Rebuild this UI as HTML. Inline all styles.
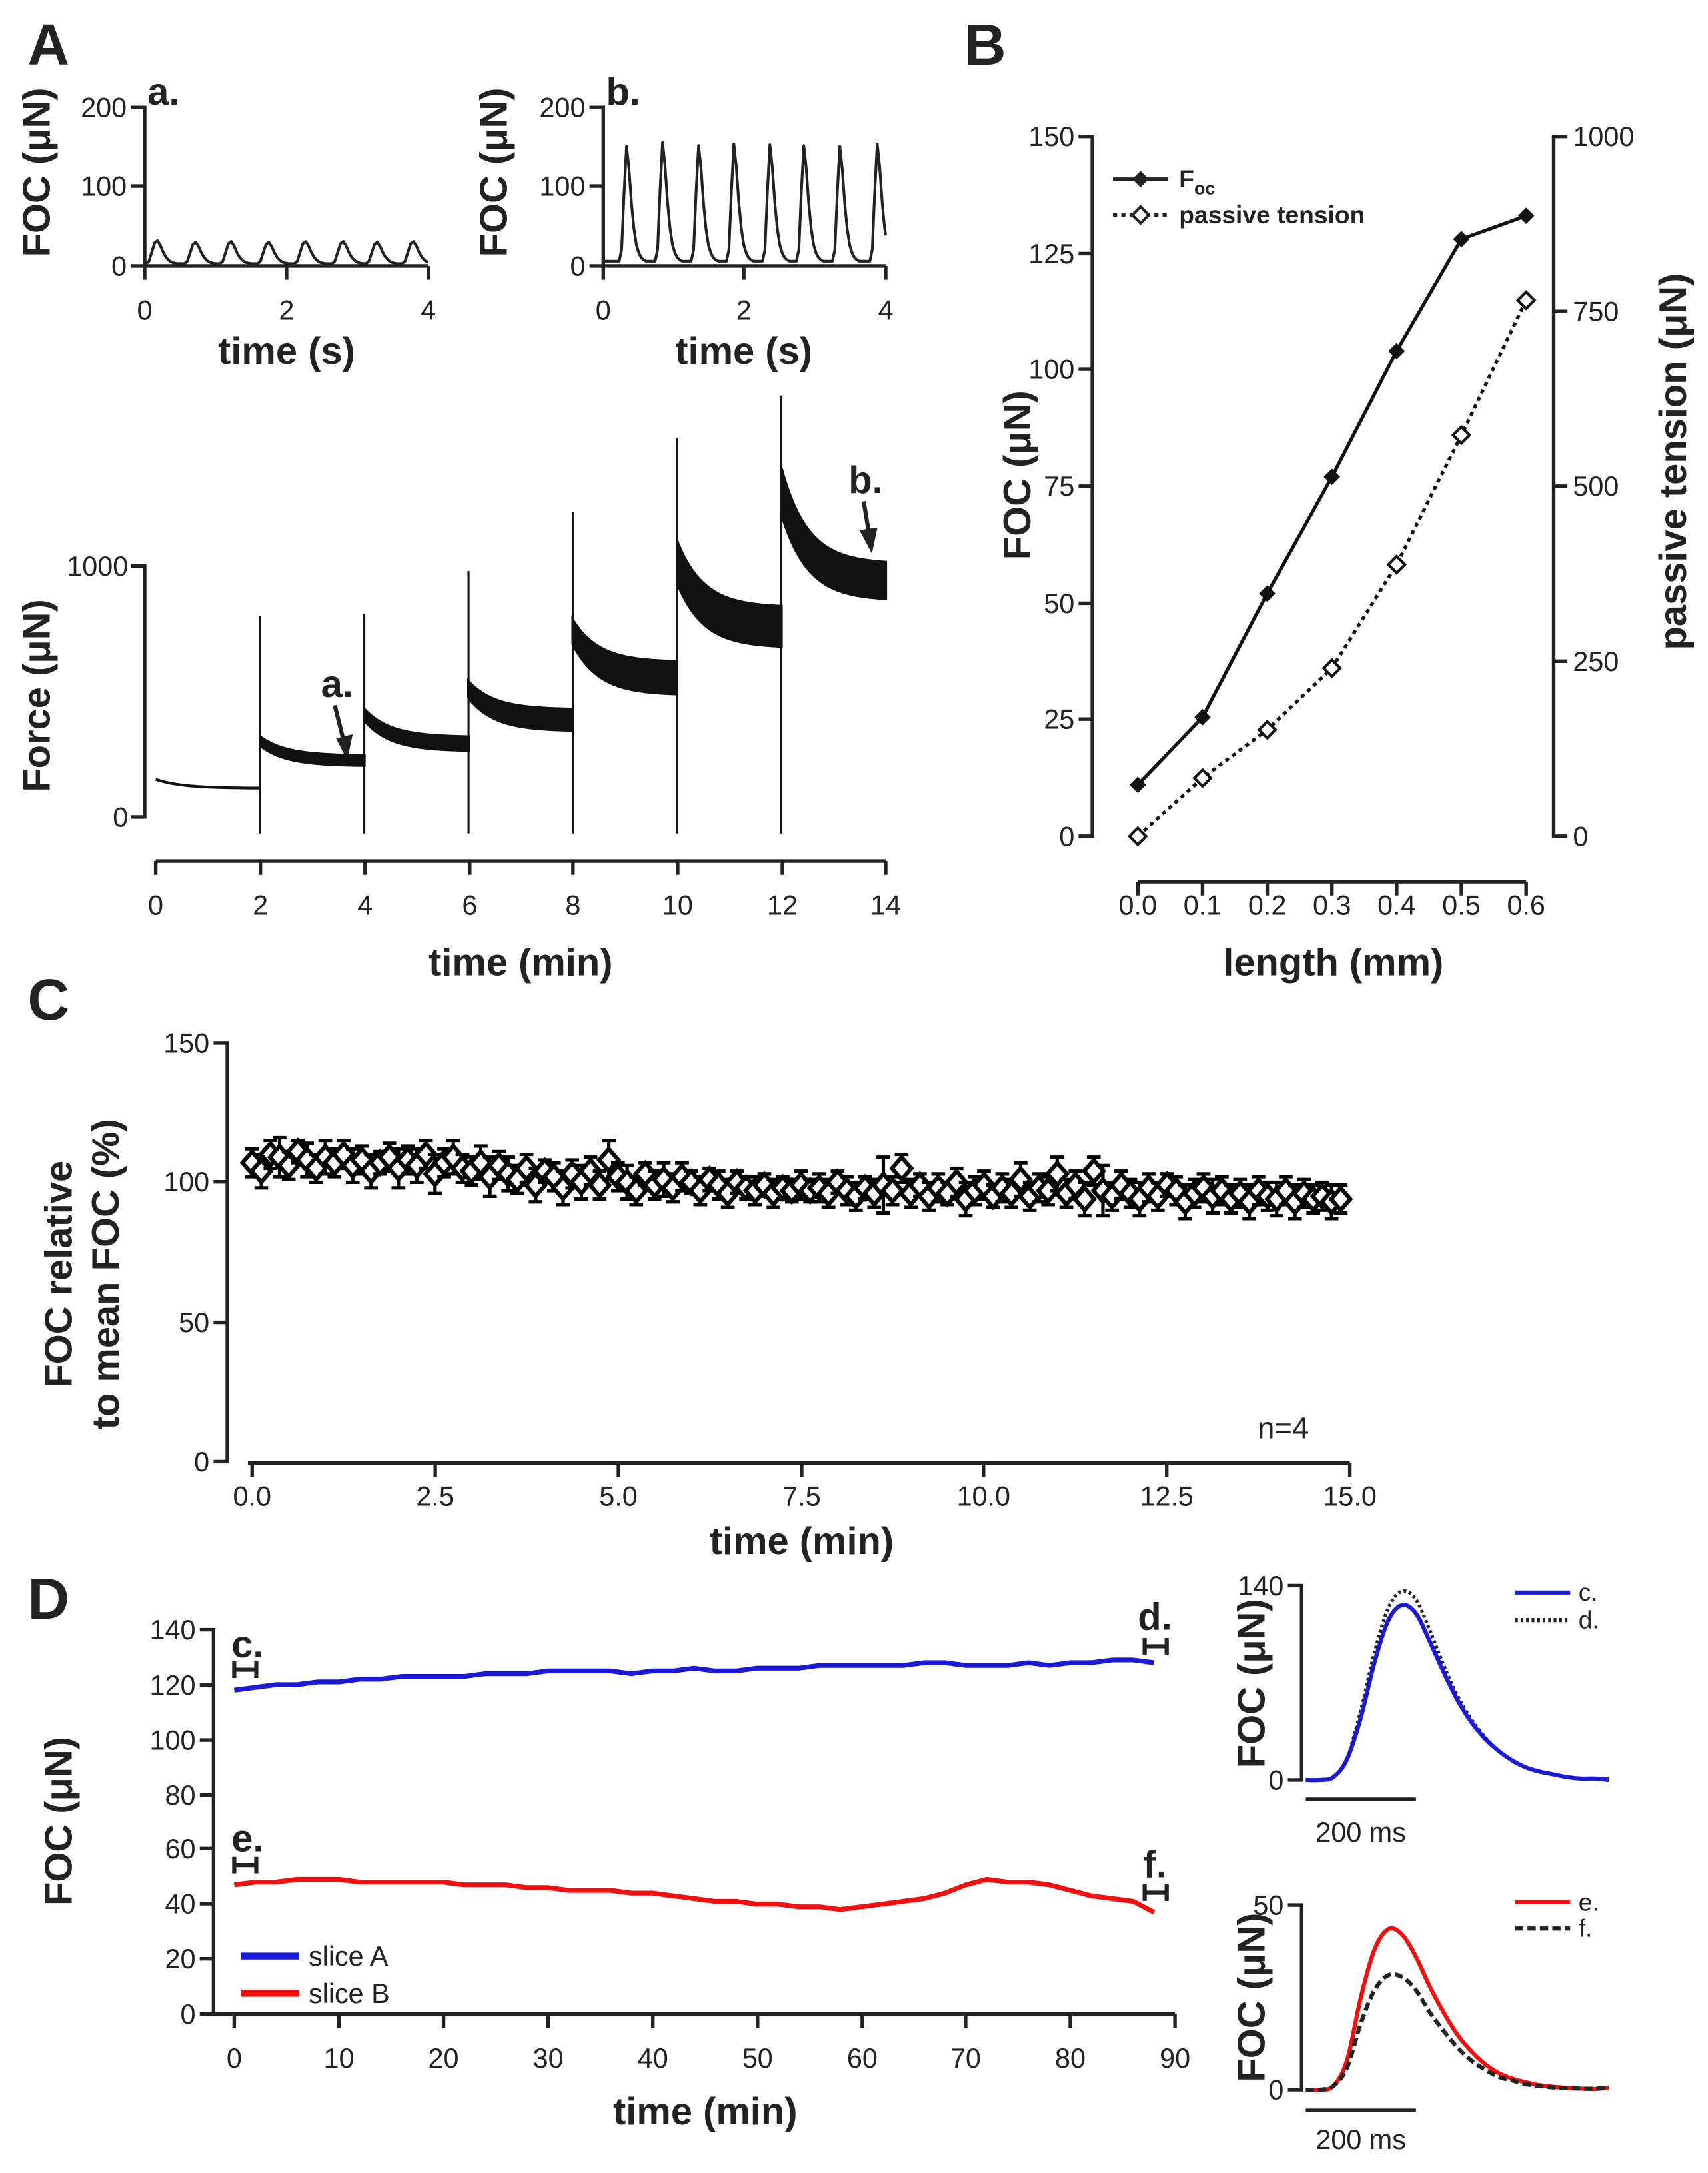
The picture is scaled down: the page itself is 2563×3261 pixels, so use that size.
<!DOCTYPE html>
<html><head><meta charset="utf-8"><style>
html,body{margin:0;padding:0;background:#fff}
#root{width:2563px;height:3256px}
svg text{font-family:"Liberation Sans",Arial,sans-serif;fill:#222}
.tk{font-size:20px}
.tt{font-size:28px;font-weight:bold}
.pl{font-size:42px;font-weight:bold}
.ax{stroke:#222;stroke-width:2.6;fill:none}
</style></head><body>
<div id="root">
<svg id="s" width="2563" height="3256" viewBox="0 0 1240 1575" preserveAspectRatio="none">
<text class="pl" x="20" y="47">A</text>
<text class="pl" x="700" y="47">B</text>
<text class="pl" x="20" y="740">C</text>
<text class="pl" x="20" y="1175">D</text>

<g>
<path class="ax" d="M95,78H105V193H95M95,135H105M105,193H311M105,193V203M208,193V203M311,193V203"/>
<text class="tk" x="92" y="85" text-anchor="end">200</text>
<text class="tk" x="92" y="142" text-anchor="end">100</text>
<text class="tk" x="92" y="200" text-anchor="end">0</text>
<text class="tk" x="105" y="232" text-anchor="middle">0</text>
<text class="tk" x="208" y="232" text-anchor="middle">2</text>
<text class="tk" x="311" y="232" text-anchor="middle">4</text>
<text class="tt" x="208" y="264" text-anchor="middle">time (s)</text>
<text class="tt" transform="translate(36,125) rotate(-90)" text-anchor="middle">FOC (μN)</text>
<text class="tt" x="107" y="76" font-size="24">a.</text>
</g>
<g>
<path class="ax" d="M428,78H438V193H428M428,135H438M438,193H643M438,193V203M540,193V203M643,193V203"/>
<text class="tk" x="425" y="85" text-anchor="end">200</text>
<text class="tk" x="425" y="142" text-anchor="end">100</text>
<text class="tk" x="425" y="200" text-anchor="end">0</text>
<text class="tk" x="438" y="232" text-anchor="middle">0</text>
<text class="tk" x="540" y="232" text-anchor="middle">2</text>
<text class="tk" x="643" y="232" text-anchor="middle">4</text>
<text class="tt" x="540" y="264" text-anchor="middle">time (s)</text>
<text class="tt" transform="translate(368,125) rotate(-90)" text-anchor="middle">FOC (μN)</text>
<text class="tt" x="440" y="76" font-size="24">b.</text>
</g>
<g>
<path class="ax" d="M95,411H105V593H95"/>
<path class="ax" d="M113,625H643M113,625V635M189,625V635M265,625V635M341,625V635M416,625V635M492,625V635M568,625V635M643,625V635"/>
<text class="tk" x="93" y="418" text-anchor="end">1000</text>
<text class="tk" x="93" y="600" text-anchor="end">0</text>
<text class="tk" x="113" y="664" text-anchor="middle">0</text>
<text class="tk" x="189" y="664" text-anchor="middle">2</text>
<text class="tk" x="265" y="664" text-anchor="middle">4</text>
<text class="tk" x="341" y="664" text-anchor="middle">6</text>
<text class="tk" x="416" y="664" text-anchor="middle">8</text>
<text class="tk" x="492" y="664" text-anchor="middle">10</text>
<text class="tk" x="568" y="664" text-anchor="middle">12</text>
<text class="tk" x="643" y="664" text-anchor="middle">14</text>
<text class="tt" x="378" y="708" text-anchor="middle">time (min)</text>
<text class="tt" transform="translate(36,505) rotate(-90)" text-anchor="middle">Force (μN)</text>
</g>
<g><text class="tt" x="233" y="506" font-size="24">a.</text>
<path d="M243,512L250,540" stroke="#222" stroke-width="3"/><path d="M244,536L252,552L256,533Z" fill="#222"/></g>
<g><text class="tt" x="616" y="358" font-size="24">b.</text>
<path d="M627,364L631,388" stroke="#222" stroke-width="3"/><path d="M624,385L633,402L637,383Z" fill="#222"/></g>

<g>
<path class="ax" d="M783,99H793V607H783M783,184H793M783,268H793M783,353H793M783,438H793M783,522H793"/>
<path class="ax" d="M1138,99H1128V607H1138M1138,226H1128M1138,353H1128M1138,480H1128"/>
<path class="ax" d="M826,640H1108M826,640V650M873,640V650M920,640V650M967,640V650M1014,640V650M1061,640V650M1108,640V650"/>
<text class="tk" x="780" y="106" text-anchor="end">150</text>
<text class="tk" x="780" y="191" text-anchor="end">125</text>
<text class="tk" x="780" y="275" text-anchor="end">100</text>
<text class="tk" x="780" y="360" text-anchor="end">75</text>
<text class="tk" x="780" y="445" text-anchor="end">50</text>
<text class="tk" x="780" y="529" text-anchor="end">25</text>
<text class="tk" x="780" y="614" text-anchor="end">0</text>
<text class="tk" x="1142" y="106">1000</text>
<text class="tk" x="1142" y="233">750</text>
<text class="tk" x="1142" y="360">500</text>
<text class="tk" x="1142" y="487">250</text>
<text class="tk" x="1142" y="614">0</text>
<text class="tk" x="826" y="664" text-anchor="middle">0.0</text>
<text class="tk" x="873" y="664" text-anchor="middle">0.1</text>
<text class="tk" x="920" y="664" text-anchor="middle">0.2</text>
<text class="tk" x="967" y="664" text-anchor="middle">0.3</text>
<text class="tk" x="1014" y="664" text-anchor="middle">0.4</text>
<text class="tk" x="1061" y="664" text-anchor="middle">0.5</text>
<text class="tk" x="1108" y="664" text-anchor="middle">0.6</text>
<text class="tt" x="968" y="708" text-anchor="middle">length (mm)</text>
<text class="tt" transform="translate(748,345) rotate(-90)" text-anchor="middle">FOC (μN)</text>
<text class="tt" transform="translate(1224,335) rotate(-90)" text-anchor="middle">passive tension (μN)</text>
</g>
<g>
<path d="M808,130H848" stroke="#222" stroke-width="2.5"/><path d="M828,124L834,130L828,136L822,130Z" fill="#222"/>
<text x="856" y="136" font-size="18" font-weight="bold">F<tspan font-size="13" dy="5">oc</tspan></text>
<path d="M808,156H848" stroke="#222" stroke-width="2.5" stroke-dasharray="3,3"/><path d="M828,150L834,156L828,162L822,156Z" fill="#fff" stroke="#222" stroke-width="2"/>
<text x="856" y="162" font-size="18" font-weight="bold">passive tension</text>
</g>

<g>
<path class="ax" d="M155,757H165V1061H155M155,858H165M155,960H165"/>
<path class="ax" d="M180,1062H980M183,1062V1072M316,1062V1072M449,1062V1072M582,1062V1072M714,1062V1072M847,1062V1072M980,1062V1072"/>
<text class="tk" x="152" y="764" text-anchor="end">150</text>
<text class="tk" x="152" y="865" text-anchor="end">100</text>
<text class="tk" x="152" y="967" text-anchor="end">50</text>
<text class="tk" x="152" y="1068" text-anchor="end">0</text>
<text class="tk" x="183" y="1093" text-anchor="middle">0.0</text>
<text class="tk" x="316" y="1093" text-anchor="middle">2.5</text>
<text class="tk" x="449" y="1093" text-anchor="middle">5.0</text>
<text class="tk" x="582" y="1093" text-anchor="middle">7.5</text>
<text class="tk" x="714" y="1093" text-anchor="middle">10.0</text>
<text class="tk" x="847" y="1093" text-anchor="middle">12.5</text>
<text class="tk" x="980" y="1093" text-anchor="middle">15.0</text>
<text class="tt" x="582" y="1128" text-anchor="middle">time (min)</text>
<text class="tt" transform="translate(52,925) rotate(-90)" text-anchor="middle">FOC relative</text>
<text class="tt" transform="translate(86,925) rotate(-90)" text-anchor="middle">to mean FOC (%)</text>
<text x="913" y="1044" font-size="22">n=4</text>
</g>

<g>
<path class="ax" d="M145,1183H155V1462H145M145,1223H155M145,1263H155M145,1303H155M145,1342H155M145,1382H155M145,1422H155"/>
<path class="ax" d="M155,1462H853M170,1462V1472M246,1462V1472M322,1462V1472M398,1462V1472M474,1462V1472M550,1462V1472M626,1462V1472M701,1462V1472M777,1462V1472M853,1462V1472"/>
<text class="tk" x="142" y="1190" text-anchor="end">140</text>
<text class="tk" x="142" y="1230" text-anchor="end">120</text>
<text class="tk" x="142" y="1270" text-anchor="end">100</text>
<text class="tk" x="142" y="1310" text-anchor="end">80</text>
<text class="tk" x="142" y="1349" text-anchor="end">60</text>
<text class="tk" x="142" y="1389" text-anchor="end">40</text>
<text class="tk" x="142" y="1429" text-anchor="end">20</text>
<text class="tk" x="142" y="1469" text-anchor="end">0</text>
<text class="tk" x="170" y="1501" text-anchor="middle">0</text>
<text class="tk" x="246" y="1501" text-anchor="middle">10</text>
<text class="tk" x="322" y="1501" text-anchor="middle">20</text>
<text class="tk" x="398" y="1501" text-anchor="middle">30</text>
<text class="tk" x="474" y="1501" text-anchor="middle">40</text>
<text class="tk" x="550" y="1501" text-anchor="middle">50</text>
<text class="tk" x="626" y="1501" text-anchor="middle">60</text>
<text class="tk" x="701" y="1501" text-anchor="middle">70</text>
<text class="tk" x="777" y="1501" text-anchor="middle">80</text>
<text class="tk" x="853" y="1501" text-anchor="middle">90</text>
<text class="tt" x="512" y="1542" text-anchor="middle">time (min)</text>
<text class="tt" transform="translate(52,1322) rotate(-90)" text-anchor="middle">FOC (μN)</text>
<text class="tt" x="168" y="1203" font-size="22">c.</text><path d="M170,1212H186M170,1206V1218M186,1206V1218" stroke="#222" stroke-width="3"/>
<text class="tt" x="826" y="1183" font-size="22">d.</text><path d="M831,1195H847M831,1189V1201M847,1189V1201" stroke="#222" stroke-width="3"/>
<text class="tt" x="168" y="1344" font-size="22">e.</text><path d="M170,1354H186M170,1348V1360M186,1348V1360" stroke="#222" stroke-width="3"/>
<text class="tt" x="830" y="1363" font-size="22">f.</text><path d="M831,1374H847M831,1368V1380M847,1368V1380" stroke="#222" stroke-width="3"/>
</g>
<g>
<path d="M175,1420H217" stroke="#1a1ad6" stroke-width="5"/><text x="224" y="1427" font-size="20">slice A</text>
<path d="M175,1447H217" stroke="#f01010" stroke-width="5"/><text x="224" y="1454" font-size="20">slice B</text>
</g>
<g>
<path class="ax" d="M935,1151H945V1292H935"/><path class="ax" d="M948,1306H1028"/>
<text class="tk" x="932" y="1158" text-anchor="end">140</text>
<text class="tk" x="932" y="1299" text-anchor="end">0</text>
<text x="988" y="1337" font-size="20" text-anchor="middle">200 ms</text>
<text class="tt" font-size="20" transform="translate(918,1222) rotate(-90)" text-anchor="middle">FOC (μN)</text>
<path d="M1100,1156H1140" stroke="#1a1ad6" stroke-width="3"/><text x="1146" y="1162" font-size="18">c.</text>
<path d="M1100,1176H1140" stroke="#222" stroke-width="3" stroke-dasharray="2,2"/><text x="1146" y="1182" font-size="18">d.</text>
</g>
<g>
<path class="ax" d="M935,1383H945V1517H935"/><path class="ax" d="M948,1532H1028"/>
<text class="tk" x="932" y="1390" text-anchor="end">50</text>
<text class="tk" x="932" y="1524" text-anchor="end">0</text>
<text x="988" y="1560" font-size="20" text-anchor="middle">200 ms</text>
<text class="tt" font-size="20" transform="translate(918,1450) rotate(-90)" text-anchor="middle">FOC (μN)</text>
<path d="M1100,1381H1140" stroke="#f01010" stroke-width="3"/><text x="1146" y="1387" font-size="18">e.</text>
<path d="M1100,1400H1140" stroke="#222" stroke-width="3" stroke-dasharray="6,3"/><text x="1146" y="1406" font-size="18">f.</text>
</g>
<g id="marks"></g>
</svg>
</div>
<script>
// ---- data ----
const insetAPeaks=[0.14,0.68,1.18,1.71,2.23,2.76,3.24,3.75];
const insetAAmp=[29,27,28,27,28,28,27,28];
const insetBPeaks=[0.33,0.84,1.35,1.85,2.36,2.84,3.35,3.88];
const insetBAmp=[145,150,146,148,147,146,145,148];
const pulseShapeA=[0,0.1,0.5,0.9,1,0.8,0.5,0.28,0.14,0.06,0.02,0];
const pulseShapeB=[0,0.1,0.6,1,0.8,0.5,0.28,0.14,0.07,0.03,0.01,0];
const segTopStart=[150,320,430,540,785,1100,1390];
const segTopEnd=[115,245,320,430,620,840,1016];
const segBotStart=[150,285,385,475,690,935,1210];
const segBotEnd=[115,205,265,345,490,680,870];
const spikeMax=[0,800,810,980,1215,1510,1680];
const lengths=[0,0.1,0.2,0.3,0.4,0.5,0.6];
const focVals=[11,25.5,52,77,104,128,133];
const passiveVals=[0,83,152,240,388,573,766];
const relFoc=[107,104,110,109,106,111,108,105,109,107,110,106,
108,104,107,109,105,108,106,110,103,107,109,105,
104,107,102,106,103,101,105,99,104,102,98,103,
100,104,99,108,102,100,97,103,99,101,98,102,
100,97,101,99,96,100,98,97,99,96,98,97,
99,97,98,96,100,97,95,98,96,99,97,105,
96,99,95,98,96,100,94,97,99,95,98,96,
101,95,98,97,103,96,99,94,104,97,95,99,
96,94,98,95,99,97,93,96,98,95,97,94,
96,93,97,95,94,97,93,96,94,95,93,94];
const relErr=[5,6,5,7,5,4,6,5,6,5,5,6,5,6,4,5,7,5,6,5,7,5,6,5,5,6,7,5,6,5,5,6,4,5,6,5,6,5,5,7,5,6,5,4,5,6,5,5,
4,5,4,5,5,4,4,5,4,5,4,4,5,4,5,5,4,5,5,4,5,10,5,5,5,4,5,5,4,5,6,5,5,4,5,5,6,5,5,5,6,5,5,6,5,9,5,5,
5,6,5,5,4,5,6,5,5,6,5,5,5,6,5,5,6,5,6,5,5,5,6,5];
const dTimes=[0,2,4,6,8,10,12,14,16,18,20,22,24,26,28,30,32,34,36,38,40,42,44,46,48,50,52,54,56,58,60,62,64,66,68,70,72,74,76,78,80,82,84,86,88];
const sliceA=[118,119,120,120,121,121,122,122,123,123,123,123,124,124,124,125,125,125,125,124,125,125,126,125,125,126,126,126,127,127,127,127,127,128,128,127,127,127,128,127,128,128,129,129,128];
const sliceB=[47,48,48,49,49,49,48,48,48,48,48,47,47,47,46,46,45,45,45,44,44,43,42,41,41,40,40,39,39,38,39,40,41,42,44,47,49,48,48,47,45,43,42,41,37];
const trT=[0,25,50,75,100,125,150,175,200,225,250,275,300,325,350,375,400,425,450,475,500,525,550];
const trC=[0,0,2,15,45,85,115,126,120,100,78,58,42,30,21,14,9,6,4,2,1,1,0];
const trD=[0,0,2,16,50,92,124,136,130,108,83,61,44,31,21,14,9,6,4,2,1,1,1];
const trE=[0,0,1,8,25,38,43.5,42,36,28,21,15,10.5,7,4.5,3,2,1.2,0.8,0.5,0.3,0.2,0.5];
const trF=[0,0,1,6,18,27,31,30.5,27,21,16,11.5,8,5.5,3.5,2.5,1.5,1,0.6,0.4,0.3,0.3,0.6];

const NS='http://www.w3.org/2000/svg';
const G=document.getElementById('marks');
function mk(tag,attrs,name){
  const el=document.createElementNS(NS,tag);
  for(const k in attrs) el.setAttribute(k,attrs[k]);
  
  
  G.appendChild(el);return el;
}
const pts=a=>a.map(p=>p[0].toFixed(2)+','+p[1].toFixed(2)).join(' ');
function smooth(p){ // catmull-rom path through points
  let d='M'+p[0][0]+','+p[0][1];
  for(let i=0;i<p.length-1;i++){
    const p0=p[Math.max(0,i-1)],p1=p[i],p2=p[i+1],p3=p[Math.min(p.length-1,i+2)];
    const c1=[p1[0]+(p2[0]-p0[0])/6,p1[1]+(p2[1]-p0[1])/6];
    const c2=[p2[0]-(p3[0]-p1[0])/6,p2[1]-(p3[1]-p1[1])/6];
    d+=`C${c1[0].toFixed(2)},${c1[1].toFixed(2)} ${c2[0].toFixed(2)},${c2[1].toFixed(2)} ${p2[0].toFixed(2)},${p2[1].toFixed(2)}`;
  }
  return d;
}

function inset(peaks,amps,shape,step,base,x0,xs,y0,ys,name){
  const p=[];
  for(let t=0;t<=4.0001;t+=0.005){
    let v=base;
    peaks.forEach((pk,i)=>{const k=(t-pk)/step+3;if(k>=0&&k<shape.length-1){const i0=Math.floor(k),f=k-i0;v+=amps[i]*(shape[i0]*(1-f)+shape[i0+1]*f);}});
    p.push([x0+t*xs,y0-v*ys]);
  }
  mk('polyline',{points:pts(p),fill:'none',stroke:'#222','stroke-width':2,'stroke-linejoin':'round'},name);
}
inset(insetAPeaks,insetAAmp,pulseShapeA,0.04,3,105,51.5,193,0.575,'inset-a-trace');
inset(insetBPeaks,insetBAmp,pulseShapeB,0.035,6,438,51.25,193,0.575,'inset-b-trace');

const fx=t=>113+t*(530/14), fy=v=>593-v*0.182;
const decay=u=>(Math.exp(-4*u)-Math.exp(-4))/(1-Math.exp(-4));
segTopStart.forEach((s,i)=>{
  const top=[],bot=[];
  for(let u=0;u<=1.0001;u+=0.02){
    const t=i*2+u*2;
    top.push([fx(t),fy(segTopEnd[i]+(s-segTopEnd[i])*decay(u))]);
    bot.push([fx(t),fy(segBotEnd[i]+(segBotStart[i]-segBotEnd[i])*decay(u))]);
  }
  mk('polygon',{points:pts(top.concat(bot.reverse())),fill:'#111',stroke:'#111','stroke-width':2},'force-segment-'+i);
  if(spikeMax[i]>0) mk('line',{x1:fx(i*2),x2:fx(i*2),y1:fy(spikeMax[i]),y2:605,stroke:'#111','stroke-width':1.5},'force-spike-'+i);
});

const bx=l=>826+l/0.6*282, by=v=>607-v*(508/150), by2=v=>607-v*0.508;
mk('polyline',{points:pts(lengths.map((l,i)=>[bx(l),by(focVals[i])])),fill:'none',stroke:'#111','stroke-width':2.5},'foc-line');
mk('polyline',{points:pts(lengths.map((l,i)=>[bx(l),by2(passiveVals[i])])),fill:'none',stroke:'#111','stroke-width':2.5,'stroke-dasharray':'3,3'},'passive-line');
lengths.forEach((l,i)=>{
  const x=bx(l),y=by(focVals[i]);
  mk('path',{d:`M${x},${y-6}L${x+6},${y}L${x},${y+6}L${x-6},${y}Z`,fill:'#111'},'foc-point');
  const y2=by2(passiveVals[i]);
  mk('path',{d:`M${x},${y2-6}L${x+6},${y2}L${x},${y2+6}L${x-6},${y2}Z`,fill:'#fff',stroke:'#111','stroke-width':2},'passive-point');
});

const cx=t=>183+t*(797/15), cy=v=>1061-v*(304/150);
relFoc.forEach((v,i)=>{
  const x=cx(i*0.125),y=cy(v),e=relErr[i]*(304/150);
  mk('path',{d:`M${x},${y-e}V${y+e}M${x-5},${y-e}H${x+5}M${x-5},${y+e}H${x+5}`,stroke:'#000','stroke-width':2.5,fill:'none'},'error-bar');
  mk('path',{d:`M${x},${y-8}L${x+7},${y}L${x},${y+8}L${x-7},${y}Z`,fill:'#fff',stroke:'#000','stroke-width':3},'rel-foc-point');
});

const dx=t=>170+t*(683/90), dy=v=>1462-v*(279/140);
mk('polyline',{points:pts(dTimes.map((t,i)=>[dx(t),dy(sliceA[i])])),fill:'none',stroke:'#1a1ad6','stroke-width':3.5,'stroke-linejoin':'round'},'slice-a-line');
mk('polyline',{points:pts(dTimes.map((t,i)=>[dx(t),dy(sliceB[i])])),fill:'none',stroke:'#f01010','stroke-width':3.5,'stroke-linejoin':'round'},'slice-b-line');

const tx=t=>948+t*0.4;
const ty1=v=>1292-v*(141/140), ty2=v=>1517-v*(134/50);
mk('path',{d:smooth(trT.map((t,i)=>[tx(t),ty1(trD[i])])),fill:'none',stroke:'#222','stroke-width':2.5,'stroke-dasharray':'2,2'},'trace-d');
mk('path',{d:smooth(trT.map((t,i)=>[tx(t),ty1(trC[i])])),fill:'none',stroke:'#1a1ad6','stroke-width':3},'trace-c');
mk('path',{d:smooth(trT.map((t,i)=>[tx(t),ty2(trE[i])])),fill:'none',stroke:'#f01010','stroke-width':3},'trace-e');
mk('path',{d:smooth(trT.map((t,i)=>[tx(t),ty2(trF[i])])),fill:'none',stroke:'#222','stroke-width':3,'stroke-dasharray':'6,3'},'trace-f');
</script>
</body></html>
